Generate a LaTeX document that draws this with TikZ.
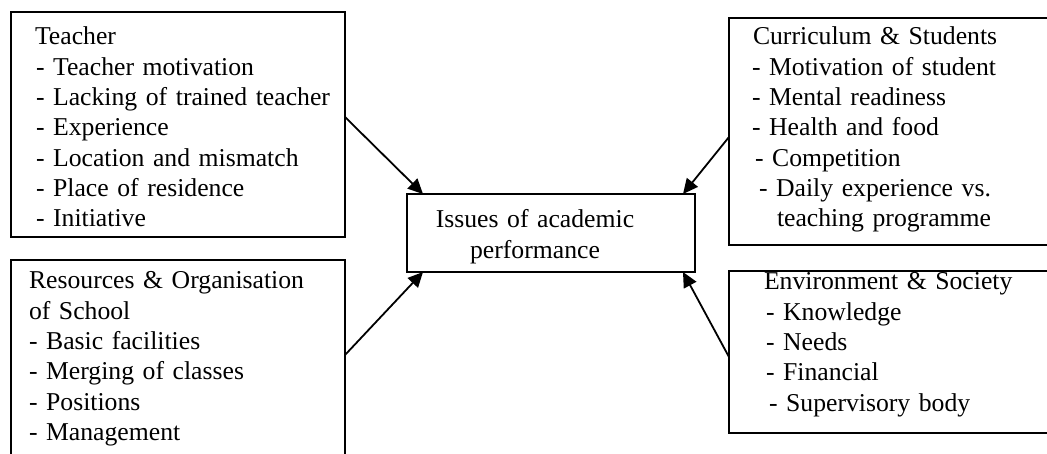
\documentclass[tikz,border=0pt]{standalone}
\usepackage{fontspec}
\setmainfont{Liberation Serif}
\usetikzlibrary{arrows.meta}
\begin{document}
\begin{tikzpicture}[x=1pt,y=-1pt,
  box/.style={draw,line width=1.8pt,rectangle,inner sep=0pt,outer sep=0pt,anchor=north west},
  txt/.style={inner sep=0pt,outer sep=0pt,anchor=base west,text width=330pt,align=left,
    font=\fontsize{25.7}{30.3}\selectfont},
  ctxt/.style={inner sep=0pt,outer sep=0pt,anchor=base,text width=260pt,align=center,
    font=\fontsize{25.7}{30.3}\selectfont},
  arr/.style={line width=1.8pt,-{Triangle[length=15pt,width=14pt]}}]
\path[use as bounding box] (0,0) rectangle (1047,454);
\clip (0,0) rectangle (1047,454);
% boxes
\node[box,minimum width=334pt,minimum height=225pt] (T) at (11,12) {};
\node[box,minimum width=334pt,minimum height=215pt] (R) at (11,260) {};
\node[box,minimum width=335pt,minimum height=227pt] (Cu) at (729,18) {};
\node[box,minimum width=335pt,minimum height=162pt] (E) at (729,271) {};
\node[box,minimum width=288pt,minimum height=78pt] (C) at (407,194) {};
% texts
\node[txt] (Tt) at (35,45) {Teacher\\
\hspace*{1pt}- Teacher motivation\\
\hspace*{1pt}- Lacking of trained teacher\\
\hspace*{1pt}- Experience\\
\hspace*{1pt}- Location and mismatch\\
\hspace*{1pt}- Place of residence\\
\hspace*{1pt}- Initiative};
\node[txt] (Rt) at (29,289) {Resources \& Organisation\\
of School\\
- Basic facilities\\
- Merging of classes\\
- Positions\\
- Management};
\node[txt] (Cut) at (752,45) {\hspace*{1pt}Curriculum \& Students\\
- Motivation of student\\
- Mental readiness\\
- Health and food\\
\hspace*{3pt}- Competition\\
\hspace*{7pt}- Daily experience vs.\\
\hspace*{25pt}teaching programme};
\node[txt] (Et) at (764,290) {Environment \& Society\\
\hspace*{2pt}- Knowledge\\
\hspace*{2pt}- Needs\\
\hspace*{2pt}- Financial\\
\hspace*{5pt}- Supervisory body};
\node[ctxt] (Ct) at (535,228) {Issues of academic\\performance};
% arrows
\draw[arr] ([yshift=-105pt]T.north east) -- ([xshift=16pt]C.north west);
\draw[arr] ([yshift=-119pt]Cu.north west) -- ([xshift=-12pt]C.north east);
\draw[arr] ([yshift=-95pt]R.north east) -- ([xshift=16pt]C.south west);
\draw[arr] ([yshift=-86pt]E.north west) -- ([xshift=-12pt]C.south east);
\end{tikzpicture}
\end{document}
